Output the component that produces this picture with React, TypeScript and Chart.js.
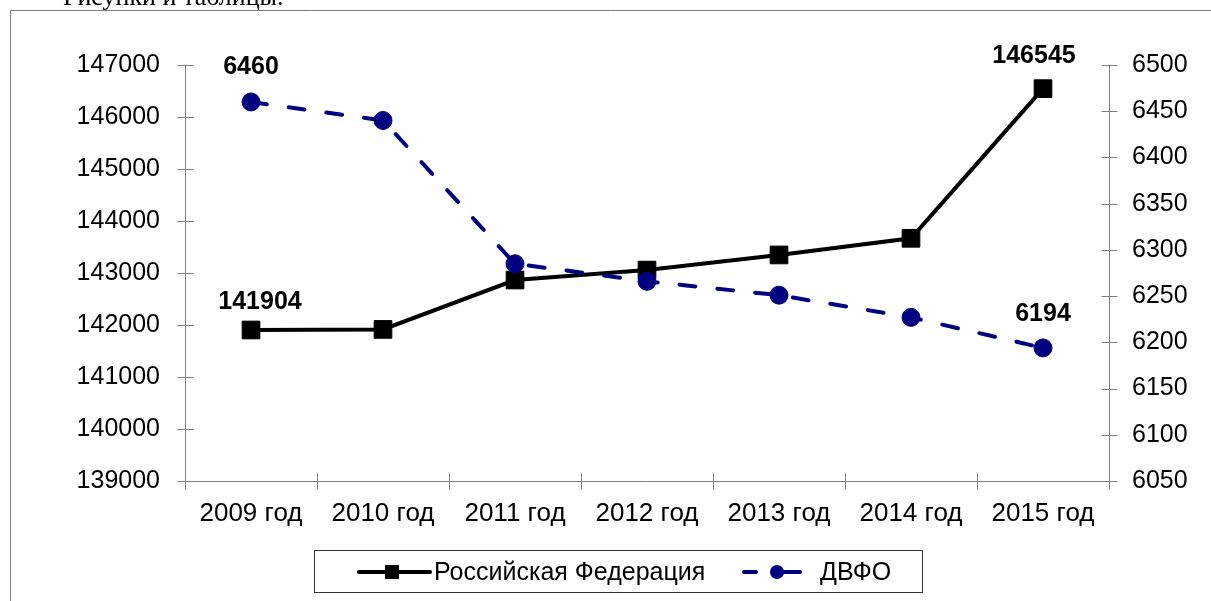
import React, { useEffect, useRef } from "react";
import { Chart, registerables } from "chart.js";

Chart.register(...registerables);

const categories = ["2009 год", "2010 год", "2011 год", "2012 год", "2013 год", "2014 год", "2015 год"];
const rfValues = [141904, 141915, 142865, 143056, 143347, 143667, 146545];
const dvfoValues = [6460, 6440, 6285, 6266, 6251, 6227, 6194];
const seriesNames = ["Российская Федерация", "ДВФО"];
const leftAxis = { min: 139000, max: 147000, step: 1000 };
const rightAxis = { min: 6050, max: 6500, step: 50 };
const labeledPoints = [0, 6];
const headerText = "Рисунки и таблицы.";

const FONT = '"Liberation Sans", Arial, sans-serif';
const AXIS_COLOR = "#808080";
const NAVY = "#000080";

const decorPlugin = {
  id: "decor",
  afterDraw(chart: any) {
    const ctx = chart.ctx as CanvasRenderingContext2D;
    const area = chart.chartArea;
    ctx.save();

    // outer frame
    ctx.strokeStyle = "#7a7a7a";
    ctx.lineWidth = 1;
    ctx.beginPath();
    ctx.moveTo(10.5, 601);
    ctx.lineTo(10.5, 10.5);
    ctx.lineTo(1211, 10.5);
    ctx.stroke();

    // header text (cut by top)
    ctx.fillStyle = "#000";
    ctx.font = '26px "Liberation Serif", "Times New Roman", serif';
    ctx.textAlign = "left";
    ctx.textBaseline = "alphabetic";
    ctx.fillText(headerText, 63, 5);

    // crossing tick marks
    ctx.strokeStyle = AXIS_COLOR;
    ctx.lineWidth = 1;
    const ys = chart.scales.y;
    const y1 = chart.scales.y1;
    ctx.beginPath();
    ys.ticks.forEach((t: any) => {
      const p = Math.round(ys.getPixelForValue(t.value)) + 0.5;
      const ax = Math.round(area.left) + 0.5;
      ctx.moveTo(ax - 8, p);
      ctx.lineTo(ax + 8, p);
    });
    y1.ticks.forEach((t: any) => {
      const p = Math.round(y1.getPixelForValue(t.value)) + 0.5;
      const ax = Math.round(area.right) + 0.5;
      ctx.moveTo(ax - 8, p);
      ctx.lineTo(ax + 8, p);
    });
    const n = categories.length;
    for (let i = 0; i <= n; i++) {
      const x = Math.round(area.left + (i * (area.right - area.left)) / n) + 0.5;
      const by = Math.round(area.bottom) + 0.5;
      ctx.moveTo(x, by - 8);
      ctx.lineTo(x, by + 8);
    }
    ctx.stroke();

    // data labels
    ctx.font = "bold 25px " + FONT;
    ctx.fillStyle = "#000";
    ctx.textAlign = "center";
    ctx.textBaseline = "alphabetic";
    const offsets: Record<string, [number, number]> = {
      "0-0": [9, -21],
      "0-6": [-9, -26],
      "1-0": [0, -28],
      "1-6": [0, -27],
    };
    chart.data.datasets.forEach((ds: any, di: number) => {
      const meta = chart.getDatasetMeta(di);
      labeledPoints.forEach((pi) => {
        const el = meta.data[pi];
        const [dx, dy] = offsets[di + "-" + pi] || [0, -25];
        ctx.fillText(String(ds.data[pi]), el.x + dx, el.y + dy);
      });
    });

    // legend
    ctx.strokeStyle = "#333";
    ctx.lineWidth = 1;
    ctx.strokeRect(314.5, 550.5, 608, 42);
    const ly = 572;
    // RF
    const rf = chart.data.datasets[0];
    ctx.strokeStyle = rf.borderColor;
    ctx.lineWidth = 4;
    ctx.lineCap = "round";
    ctx.beginPath();
    ctx.moveTo(359, ly);
    ctx.lineTo(430, ly);
    ctx.stroke();
    ctx.fillStyle = rf.pointBackgroundColor;
    ctx.fillRect(385, ly - 7, 14, 14);
    ctx.fillStyle = "#000";
    ctx.font = "25px " + FONT;
    ctx.textAlign = "left";
    ctx.textBaseline = "middle";
    ctx.fillText(rf.label, 434, ly + 1);
    // DVFO
    const dv = chart.data.datasets[1];
    ctx.strokeStyle = dv.borderColor;
    ctx.beginPath();
    ctx.moveTo(744, ly);
    ctx.lineTo(756, ly);
    ctx.moveTo(777, ly);
    ctx.lineTo(800, ly);
    ctx.stroke();
    ctx.fillStyle = dv.pointBackgroundColor;
    ctx.beginPath();
    ctx.arc(777, ly, 7, 0, Math.PI * 2);
    ctx.fill();
    ctx.fillStyle = "#000";
    ctx.fillText(dv.label, 820, ly + 1);

    ctx.restore();
  },
};

export default function App() {
  const ref = useRef<HTMLCanvasElement | null>(null);
  useEffect(() => {
    if (!ref.current) return;
    const chart = new Chart(ref.current, {
      type: "line",
      data: {
        labels: categories,
        datasets: [
          {
            label: seriesNames[0],
            data: rfValues,
            yAxisID: "y",
            borderColor: "#000000",
            backgroundColor: "#000000",
            borderWidth: 4,
            pointStyle: "rect",
            pointRadius: 12.5,
            pointBorderWidth: 1,
            pointBackgroundColor: "#000000",
            pointBorderColor: "#000000",
            tension: 0,
            order: 1,
            clip: false,
          },
          {
            label: seriesNames[1],
            data: dvfoValues,
            yAxisID: "y1",
            borderColor: NAVY,
            backgroundColor: NAVY,
            borderWidth: 4,
            borderDash: [16, 22],
            borderCapStyle: "round",
            pointStyle: "circle",
            pointRadius: 9,
            pointBorderWidth: 1,
            pointBackgroundColor: NAVY,
            pointBorderColor: NAVY,
            tension: 0,
            order: 0,
            clip: false,
          },
        ],
      },
      options: {
        responsive: false,
        animation: false,
        devicePixelRatio: 1,
        layout: { padding: { top: 65, left: 0, right: 0, bottom: 0 } },
        plugins: {
          legend: { display: false },
          tooltip: { enabled: false },
          title: { display: false },
        },
        scales: {
          x: {
            type: "category",
            offset: true,
            grid: { display: false, offset: true, drawTicks: false },
            border: { display: true, color: AXIS_COLOR, width: 1 },
            ticks: {
              color: "#000",
              font: { family: FONT, size: 26 },
              padding: 17,
              maxRotation: 0,
              autoSkip: false,
            },
            afterFit: (s: any) => {
              s.height = 120;
            },
          },
          y: {
            type: "linear",
            position: "left",
            min: leftAxis.min,
            max: leftAxis.max,
            grid: { display: false, drawTicks: false },
            border: { display: true, color: AXIS_COLOR, width: 1 },
            ticks: {
              stepSize: leftAxis.step,
              color: "#000",
              font: { family: FONT, size: 25 },
              padding: 25,
              callback: (v: any) => String(v),
            },
            afterFit: (s: any) => {
              s.width = 185;
            },
          },
          y1: {
            type: "linear",
            position: "right",
            min: rightAxis.min,
            max: rightAxis.max,
            grid: { display: false, drawTicks: false, drawOnChartArea: false },
            border: { display: true, color: AXIS_COLOR, width: 1 },
            ticks: {
              stepSize: rightAxis.step,
              color: "#000",
              font: { family: FONT, size: 25 },
              padding: 23,
              callback: (v: any) => String(v),
            },
            afterFit: (s: any) => {
              s.width = 102;
            },
          },
        },
      } as any,
      plugins: [decorPlugin],
    });
    return () => chart.destroy();
  }, []);
  return (
    <div style={{ position: "absolute", left: 0, top: 0, width: 1211, height: 601, background: "#fff" }}>
      <canvas ref={ref} width={1211} height={601} style={{ display: "block" }} />
    </div>
  );
}
